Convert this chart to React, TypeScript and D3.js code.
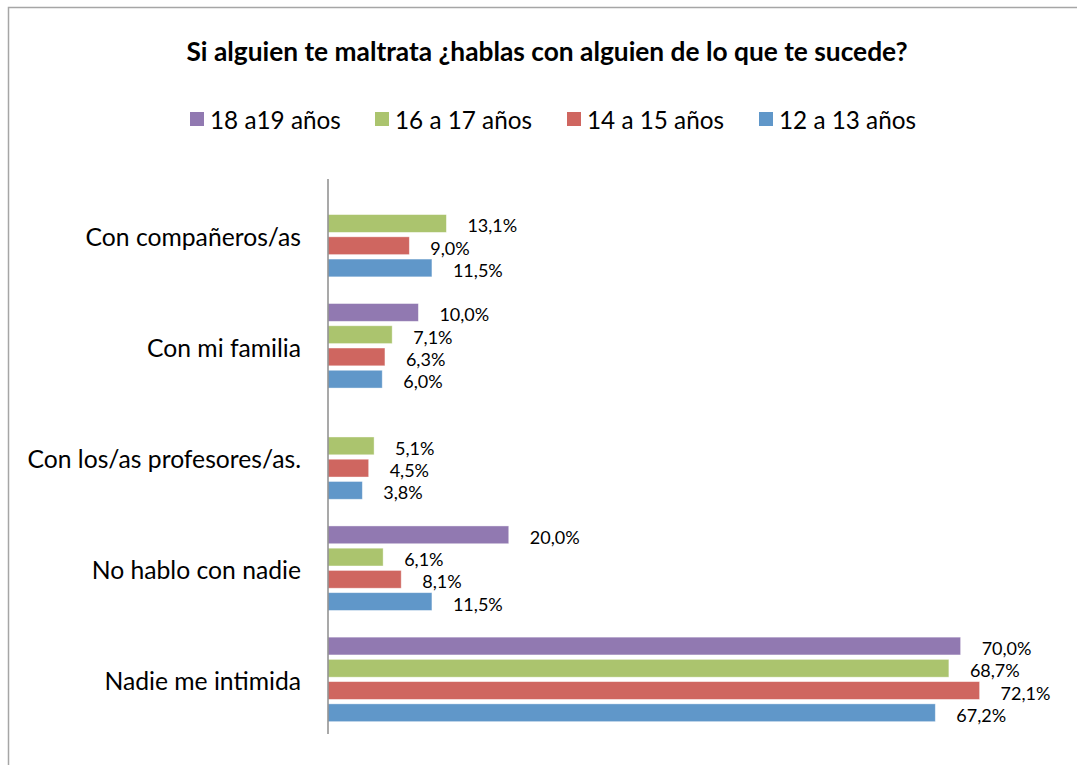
import React from 'react';
import * as d3 from 'd3';

const title = 'Si alguien te maltrata ¿hablas con alguien de lo que te sucede?';
const categories = [
  'Con compañeros/as',
  'Con mi familia',
  'Con los/as profesores/as.',
  'No hablo con nadie',
  'Nadie me intimida',
];
const seriesNames = ['18 a19 años', '16 a 17 años', '14 a 15 años', '12 a 13 años'];
const seriesColors = ['#9179B1', '#ABC46E', '#CF6660', '#6097C9'];

// values per series, in category order (null = no bar)
const age18to19 = [null, 10.0, null, 20.0, 70.0];
const age16to17 = [13.1, 7.1, 5.1, 6.1, 68.7];
const age14to15 = [9.0, 6.3, 4.5, 8.1, 72.1];
const age12to13 = [11.5, 6.0, 3.8, 11.5, 67.2];
const seriesValues = [age18to19, age16to17, age14to15, age12to13];

const W = 1077;
const H = 765;
const FONT = 'Lato, "Noto Sans", sans-serif';

const fmt = (v: number) => v.toFixed(1).replace('.', ',') + '%';

const App: React.FC = () => {
  const x = d3.scaleLinear([0, 80], [328, 1051]);
  const y = d3.scaleBand<string>()
    .domain(categories)
    .range([179, 735])
    .paddingInner(0.2)
    .paddingOuter(0.1);
  const inner = d3.scaleBand<string>()
    .domain(seriesNames)
    .range([0, y.bandwidth()])
    .paddingInner(0.2)
    .paddingOuter(0.1);

  const legendX = [190, 375, 567, 759];

  return (
    <svg
      width={W}
      height={H}
      style={{ position: 'absolute', left: 0, top: 0, background: '#fff' }}
      fontFamily={FONT}
    >
      <rect x={8.5} y={7.5} width={W + 10} height={H + 10} fill="#fff" stroke="#a6a6a6" strokeWidth={1.5} />

      <text x={547} y={61} textAnchor="middle" fontWeight="bold" fontSize={26.3} fill="#000">
        {title}
      </text>

      {seriesNames.map((s, i) => (
        <g key={s}>
          <rect x={legendX[i]} y={112} width={14} height={14} fill={seriesColors[i]} />
          <text x={legendX[i] + 20} y={129} fontSize={24.3} fill="#000">{s}</text>
        </g>
      ))}

      {categories.map((c, ci) => {
        const y0 = y(c)!;
        return (
          <g key={c}>
            <text x={301} y={y0 + y.bandwidth() / 2 + 11} textAnchor="end" fontSize={24.7} fill="#000">
              {c}
            </text>
            {seriesNames.map((s, si) => {
              const v = seriesValues[si][ci];
              if (v === null) return null;
              const by = y0 + inner(s)!;
              const bh = inner.bandwidth();
              return (
                <g key={s}>
                  <rect
                    x={x(0)}
                    y={by}
                    width={x(v) - x(0)}
                    height={bh}
                    fill={seriesColors[si]}
                    stroke="#ffffff"
                    strokeOpacity={0.5}
                    strokeWidth={0.8}
                  />
                  <text x={x(v) + 21} y={by + bh / 2 + 9} fontSize={18} fill="#000">
                    {fmt(v)}
                  </text>
                </g>
              );
            })}
          </g>
        );
      })}

      <line x1={x(0)} x2={x(0)} y1={179} y2={734} stroke="#8c8c8c" strokeWidth={1.5} />
    </svg>
  );
};

export default App;
